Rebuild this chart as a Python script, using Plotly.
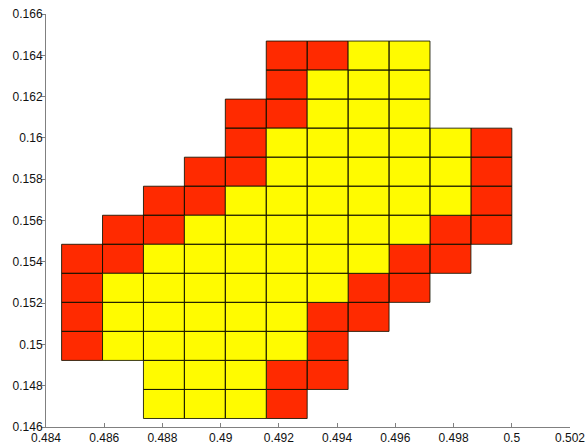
import plotly.graph_objects as go

# Grid geometry (data units)
x_start = 0.484536
y_start = 0.146412
cell = 0.001406

# Cell states, top row first; R = red, Y = yellow, . = empty
grid_rows = [
    ".....RRYY..",
    ".....RYYY..",
    "....RRYYY..",
    "....RYYYYYR",
    "...RRYYYYYR",
    "..RRYYYYYYR",
    ".RRYYYYYYRR",
    "RRYYYYYYRR.",
    "RYYYYYYRR..",
    "RYYYYYRR...",
    "RYYYYYR....",
    "..YYYRR....",
    "..YYYR.....",
]

x_ticks = [0.484, 0.486, 0.488, 0.49, 0.492, 0.494, 0.496, 0.498, 0.5, 0.502]
x_tick_text = ["0.484", "0.486", "0.488", "0.49", "0.492", "0.494", "0.496", "0.498", "0.5", "0.502"]
y_ticks = [0.146, 0.148, 0.15, 0.152, 0.154, 0.156, 0.158, 0.16, 0.162, 0.164, 0.166]
y_tick_text = ["0.146", "0.148", "0.15", "0.152", "0.154", "0.156", "0.158", "0.16", "0.162", "0.164", "0.166"]

colors = {"R": "#FF2A00", "Y": "#FFFB00"}

n_rows = len(grid_rows)
fig = go.Figure()
for code, col in colors.items():
    xs, ys = [], []
    for i, row in enumerate(grid_rows):
        r = n_rows - 1 - i
        for c, ch in enumerate(row):
            if ch != code:
                continue
            x0 = x_start + c * cell
            y0 = y_start + r * cell
            x1, y1 = x0 + cell, y0 + cell
            xs += [x0, x1, x1, x0, x0, None]
            ys += [y0, y0, y1, y1, y0, None]
    fig.add_trace(go.Scatter(
        x=xs, y=ys, mode="lines", fill="toself", fillcolor=col,
        line=dict(color="rgba(20,20,0,0.85)", width=1),
        hoverinfo="skip", showlegend=False,
    ))

axis_font = dict(family="Liberation Sans, Arial, sans-serif", size=12, color="#111")
fig.update_layout(
    width=585, height=444,
    margin=dict(l=46, r=15, t=14, b=17),
    paper_bgcolor="white", plot_bgcolor="white",
    xaxis=dict(
        range=[0.484, 0.502], tickvals=x_ticks, ticktext=x_tick_text,
        showgrid=False, zeroline=False, showline=True, linecolor="#808080", linewidth=1,
        ticks="inside", ticklen=4, tickcolor="#808080", tickfont=axis_font,
        automargin=False, ticklabeloverflow="allow",
    ),
    yaxis=dict(
        range=[0.146, 0.166], tickvals=y_ticks, ticktext=y_tick_text,
        showgrid=False, zeroline=False, showline=True, linecolor="#808080", linewidth=1,
        ticks="outside", ticklen=4, tickcolor="#808080", tickfont=axis_font,
        automargin=False, ticklabeloverflow="allow", ticklabelstandoff=-4,
    ),
)

fig.write_html("out.html")
